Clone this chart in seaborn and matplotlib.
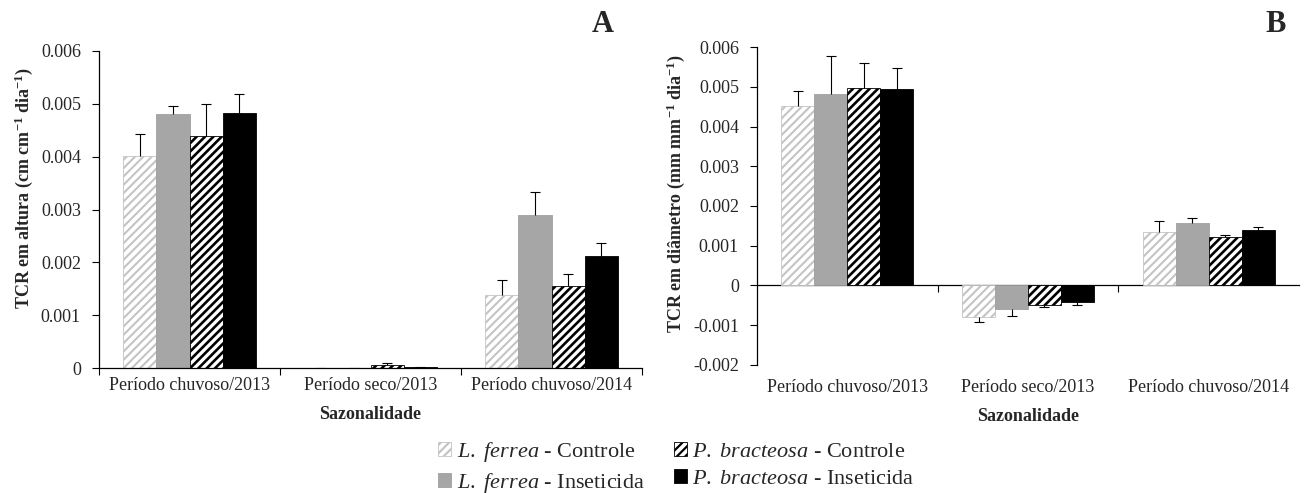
import numpy as np
import pandas as pd
import matplotlib
matplotlib.use("Agg")
import matplotlib.pyplot as plt
import seaborn as sns

# ---------------- data ----------------
periods = ["Período chuvoso/2013", "Período seco/2013", "Período chuvoso/2014"]
treatments = ["L. ferrea - Controle", "L. ferrea - Inseticida",
              "P. bracteosa - Controle", "P. bracteosa - Inseticida"]
legend_labels = [r"$\mathit{L.\ ferrea}$ - Controle", r"$\mathit{L.\ ferrea}$ - Inseticida",
                 r"$\mathit{P.\ bracteosa}$ - Controle", r"$\mathit{P.\ bracteosa}$ - Inseticida"]

# Panel A: TCR em altura
a_lf_ctrl = [0.00402, 0.00001, 0.00138]
a_lf_ins = [0.00480, 0.00001, 0.00289]
a_pb_ctrl = [0.00438, 0.00006, 0.00155]
a_pb_ins = [0.00482, 0.00002, 0.00213]
a_lf_ctrl_err = [0.00041, 0.000005, 0.00029]
a_lf_ins_err = [0.00015, 0.000005, 0.00045]
a_pb_ctrl_err = [0.00062, 0.00004, 0.00024]
a_pb_ins_err = [0.00036, 0.00001, 0.00023]

# Panel B: TCR em diâmetro
b_lf_ctrl = [0.00452, -0.00080, 0.00134]
b_lf_ins = [0.00482, -0.00060, 0.00157]
b_pb_ctrl = [0.00497, -0.00050, 0.00121]
b_pb_ins = [0.00495, -0.00042, 0.00140]
b_lf_ctrl_err = [0.00038, 0.00013, 0.00027]
b_lf_ins_err = [0.00097, 0.00017, 0.00012]
b_pb_ctrl_err = [0.00063, 0.00004, 0.00007]
b_pb_ins_err = [0.00052, 0.00007, 0.00006]

a_ticks = [0, 0.001, 0.002, 0.003, 0.004, 0.005, 0.006]
a_ticklabels = ["0", "0.001", "0.002", "0.003", "0.004", "0.005", "0.006"]
b_ticks = [-0.002, -0.001, 0, 0.001, 0.002, 0.003, 0.004, 0.005, 0.006]
b_ticklabels = ["-0.002", "-0.001", "0", "0.001", "0.002", "0.003", "0.004", "0.005", "0.006"]

# ---------------- style ----------------
sns.set_style("white")
plt.rcParams["font.family"] = ["Liberation Serif", "DejaVu Serif"]
plt.rcParams["mathtext.fontset"] = "custom"
plt.rcParams["mathtext.rm"] = "Liberation Serif"
plt.rcParams["mathtext.it"] = "Liberation Serif:italic"
plt.rcParams["mathtext.bf"] = "Liberation Serif:bold"
plt.rcParams["hatch.linewidth"] = 1.6

styles = [
    dict(fc="white", ec="#c4c4c4", hatch="////", hlw=1.5),
    dict(fc="#a6a6a6", ec="#a0a0a0", hatch=None, hlw=None),
    dict(fc="white", ec="black", hatch="////", hlw=1.9),
    dict(fc="black", ec="black", hatch=None, hlw=None),
]


def long_df(series):
    rows = []
    for t, vals in zip(treatments, series):
        for p, v in zip(periods, vals):
            rows.append({"Sazonalidade": p, "Tratamento": t, "TCR": v})
    return pd.DataFrame(rows)


def draw_panel(ax, series, errors, ylim, ticks, ticklabels, ylabel):
    df = long_df(series)
    sns.barplot(data=df, x="Sazonalidade", y="TCR", hue="Tratamento",
                order=periods, hue_order=treatments,
                palette=dict(zip(treatments, ["white", "#a6a6a6", "white", "black"])),
                width=0.73, gap=0, errorbar=None, legend=False, saturation=1, ax=ax)
    for cont, st in zip(ax.containers, styles):
        for p in cont:
            p.set_facecolor(st["fc"])
            p.set_edgecolor(st["ec"])
            p.set_linewidth(0.6)
            if st["hatch"]:
                p.set_hatch(st["hatch"])
                if hasattr(p, "set_hatch_linewidth"):
                    p.set_hatch_linewidth(st["hlw"])
    for cont, vals, errs in zip(ax.containers, series, errors):
        xs = np.array([p.get_x() + p.get_width() / 2 for p in cont])
        vals = np.array(vals)
        errs = np.array(errs)
        lower = np.where(vals < 0, errs, 0)
        upper = np.where(vals >= 0, errs, 0)
        ends = vals + upper - lower
        ax.errorbar(xs, vals, yerr=[lower, upper], fmt="none", ecolor="black",
                    elinewidth=0.8, capsize=0, zorder=5)
        ax.plot(xs, ends, ls="none", marker="_", markersize=6.5, mew=0.8,
                color="black", zorder=5)
    ax.set_ylim(*ylim)
    ax.set_xlim(-0.5, 2.5)
    ax.set_yticks(ticks)
    ax.set_yticklabels(ticklabels)
    ax.set_ylabel(ylabel, fontsize=13, fontweight="bold")
    ax.set_xlabel("Sazonalidade", fontsize=13, fontweight="bold")
    for s in ["top", "right"]:
        ax.spines[s].set_visible(False)
    for s in ["left", "bottom"]:
        ax.spines[s].set_color("black")
        ax.spines[s].set_linewidth(0.9)
    ax.tick_params(axis="y", direction="out", length=5, width=0.8, color="black",
                   labelsize=13, pad=8, left=True)
    ax.tick_params(axis="x", which="major", length=0, labelsize=13)


fig = plt.figure(figsize=(13.05, 4.93), dpi=100)
axA = fig.add_axes([99 / 1305, (493 - 368.3) / 493, 543 / 1305, 317.6 / 493])
axB = fig.add_axes([757 / 1305, (493 - 364.7) / 493, 542 / 1305, 317.4 / 493])

draw_panel(axA,
           [a_lf_ctrl, a_lf_ins, a_pb_ctrl, a_pb_ins],
           [a_lf_ctrl_err, a_lf_ins_err, a_pb_ctrl_err, a_pb_ins_err],
           (0, 0.006), a_ticks, a_ticklabels,
           r"TCR em altura (cm cm$^{\mathbf{-1}}$ dia$^{\mathbf{-1}}$)")
draw_panel(axB,
           [b_lf_ctrl, b_lf_ins, b_pb_ctrl, b_pb_ins],
           [b_lf_ctrl_err, b_lf_ins_err, b_pb_ctrl_err, b_pb_ins_err],
           (-0.002, 0.006), b_ticks, b_ticklabels,
           r"TCR em diâmetro (mm mm$^{\mathbf{-1}}$ dia$^{\mathbf{-1}}$)")

# Panel A x-axis: boundary ticks
axA.set_xticks([-0.5, 0.5, 1.5, 2.5], minor=True)
axA.tick_params(axis="x", which="minor", direction="out", length=5, width=0.8,
                color="black", bottom=True)
axA.tick_params(axis="x", which="major", pad=6)
axA.xaxis.set_label_coords(0.5, -0.12)
axA.yaxis.set_label_coords(-0.138, 0.569)
axA.yaxis.label.set_verticalalignment("center")

# Panel B: horizontal axis line at zero, labels at bottom
axB.spines["bottom"].set_visible(False)
axB.tick_params(axis="x", which="major", pad=10)
sec = axB.secondary_xaxis(0.25)
sec.set_xticks([0.5, 1.5])
sec.set_xticklabels(["", ""])
sec.tick_params(axis="x", direction="out", length=5, width=0.8, color="black")
sec.spines["bottom"].set_color("black")
sec.spines["bottom"].set_linewidth(0.9)
axB.xaxis.set_label_coords(0.5, -0.137)
axB.yaxis.set_label_coords(-0.150, 0.539)
axB.yaxis.label.set_verticalalignment("center")

fig.text(603 / 1305, 1 - 25 / 493, "A", fontsize=22, fontweight="bold", ha="center", va="center")
fig.text(1276 / 1305, 1 - 25 / 493, "B", fontsize=22, fontweight="bold", ha="center", va="center")

fig.legend(handles=list(axA.containers), labels=legend_labels, ncol=2,
           loc="upper left", bbox_to_anchor=(438 / 1305, 1 - 440 / 493),
           frameon=False, fontsize=16, handlelength=0.6, handleheight=0.6,
           handletextpad=0.25, columnspacing=1.3, labelspacing=0.3,
           borderpad=0, borderaxespad=0)

fig.savefig("out.png", dpi=100)
